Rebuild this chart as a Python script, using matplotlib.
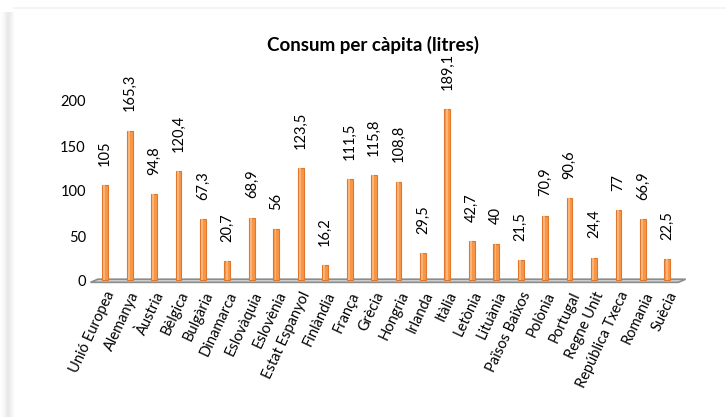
import numpy as np
import matplotlib.pyplot as plt
from matplotlib.patches import Polygon

# data
paisos = ['Unió Europea', 'Alemanya', 'Àustria', 'Bèlgica', 'Bulgària', 'Dinamarca',
          'Eslovàquia', 'Eslovènia', 'Estat Espanyol', 'Finlàndia', 'França', 'Grècia',
          'Hongria', 'Irlanda', 'Itàlia', 'Letònia', 'Lituània', 'Països Baixos',
          'Polònia', 'Portugal', 'Regne Unit', 'República Txeca', 'Romania', 'Suècia']
consum = [105, 165.3, 94.8, 120.4, 67.3, 20.7, 68.9, 56, 123.5, 16.2, 111.5, 115.8,
          108.8, 29.5, 189.1, 42.7, 40, 21.5, 70.9, 90.6, 24.4, 77, 66.9, 22.5]
yticks = [0, 50, 100, 150, 200]

plt.rcParams['font.family'] = ['Lato', 'DejaVu Sans']

fig = plt.figure(figsize=(7.26, 4.17), dpi=100)
fig.patch.set_facecolor('white')

# shadow strip on the left of the frame
bg = fig.add_axes([0, 0, 1, 1], zorder=-5)
bg.set_xlim(0, 726)
bg.set_ylim(417, 0)
bg.axis('off')
grad = np.linspace(0, 1, 14)[None, :]
grad = np.exp(-((grad - 0.6) / 0.35) ** 2)
bg.imshow(np.repeat(grad, 2, axis=0), extent=(0, 14, 417, 12), cmap='Greys',
          vmin=0, vmax=6, aspect='auto', interpolation='bicubic')
bg.plot([14, 726], [8, 8], color='#f4f4f4', lw=1.5)

ax = fig.add_axes([90 / 726, 136 / 417, 592 / 726, 180 / 417])
x = np.arange(len(paisos))
ax.set_xlim(-0.62, len(paisos) - 0.4)
ax.set_ylim(0, 200)

# 3D-like floor
floor = Polygon([(-0.6, -1.5), (23.45, -1.5), (23.75, 2.0), (-0.3, 2.0)],
                closed=True, facecolor='#d0d0d0', edgecolor='#8c8c8c', lw=1.2,
                clip_on=False, zorder=1)
ax.add_patch(floor)

ax.bar(x, consum, width=0.24, bottom=1.5, color='#f79646', edgecolor='#e0772a',
       lw=0.8, zorder=3)
ax.bar(x - 0.03, consum, width=0.08, bottom=1.5, color='#fbb47a', lw=0, zorder=4)

for xi, v in zip(x, consum):
    lab = ('%g' % v).replace('.', ',')
    ax.annotate(lab, (xi, v), xytext=(0, 15), textcoords='offset points',
                rotation=90, ha='center', va='bottom', fontsize=10.5,
                annotation_clip=False)

ax.set_xticks(x)
ax.set_xticklabels(paisos, rotation=65, ha='right', rotation_mode='anchor',
                   fontsize=10.5)
ax.set_yticks(yticks)
ax.set_yticklabels([str(t) for t in yticks], fontsize=10.5)
ax.tick_params(length=0, axis='both')
ax.tick_params(axis='y', pad=3)
ax.tick_params(axis='x', pad=6)
for s in ax.spines.values():
    s.set_visible(False)
ax.patch.set_alpha(0)

fig.text(373 / 726, 1 - 45 / 417, 'Consum per càpita (litres)', ha='center',
         va='center', fontsize=13.5, fontweight='bold')

fig.savefig('out.png', dpi=100)
